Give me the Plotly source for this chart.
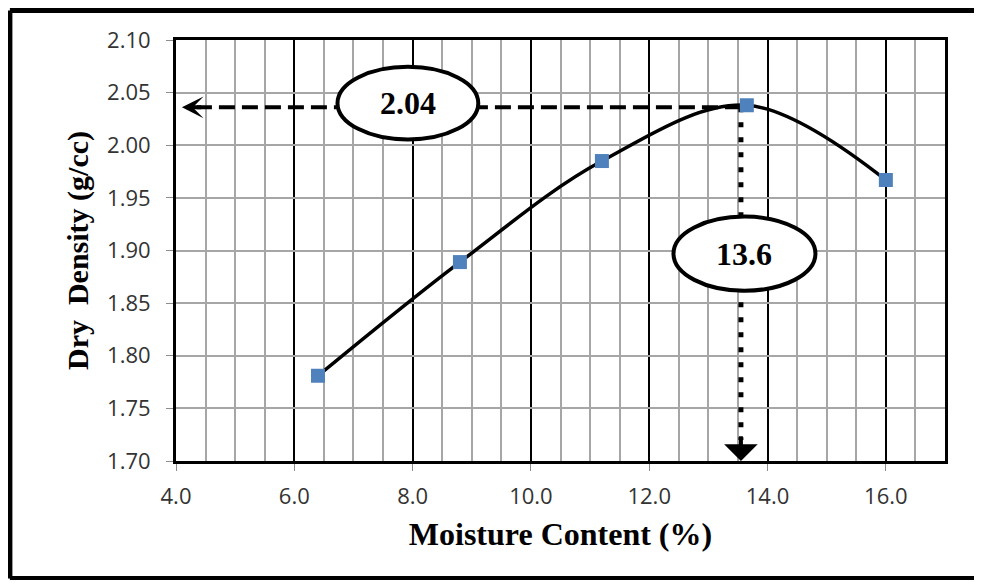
import plotly.graph_objects as go

# compaction test readings
moisture = [6.4, 8.8, 11.2, 13.65, 16.0]
dry_density = [1.781, 1.889, 1.985, 2.038, 1.967]

# optimum moisture content / maximum dry density
omc = 13.55
mdd = 2.036
omc_label = "13.6"
mdd_label = "2.04"

x_ticks = [4.0, 6.0, 8.0, 10.0, 12.0, 14.0, 16.0]

fig = go.Figure()

# guide lines from the peak to the axes
fig.add_trace(go.Scatter(x=[omc, 4.35], y=[mdd, mdd], mode="lines",
                         line=dict(color="black", width=4, dash="16px,7px"),
                         hoverinfo="skip"))
fig.add_trace(go.Scatter(x=[omc, omc], y=[mdd, 1.72], mode="lines",
                         line=dict(color="black", width=5, dash="5px,10px"),
                         hoverinfo="skip"))

# compaction curve
fig.add_trace(go.Scatter(x=moisture, y=dry_density, mode="lines+markers",
                         line=dict(color="black", width=3.5, shape="spline"),
                         marker=dict(symbol="square", size=14, color="#4f81bd")))

serif = "Liberation Serif"
tick_font = dict(family="Open Sans", size=22, color="#333333")

# the page body adds an 8px margin; keep the figure small enough to avoid scrollbars
fig.update_layout(
    width=974, height=572,
    margin=dict(l=168, r=37, t=32, b=119),
    paper_bgcolor="white", plot_bgcolor="white",
    showlegend=False,
    xaxis=dict(range=[4, 17], tick0=4, dtick=2, tickvals=x_ticks, tickformat=".1f",
               showgrid=True, gridcolor="black", gridwidth=1.5,
               minor=dict(dtick=0.5, showgrid=True, gridcolor="#a6a6a6", gridwidth=1.5),
               showline=True, linecolor="black", linewidth=3, mirror=True,
               ticks="outside", ticklen=7, tickcolor="#8c8c8c", zeroline=False,
               tickfont=tick_font, ticklabelstandoff=7,
               title=dict(text="<b>Moisture Content (%)</b>", standoff=14,
                          font=dict(family=serif, size=32, color="black"))),
    yaxis=dict(range=[1.70, 2.10], dtick=0.05, tickformat=".2f",
               showgrid=True, gridcolor="#a6a6a6", gridwidth=1.5,
               showline=True, linecolor="black", linewidth=3, mirror=True,
               ticks="outside", ticklen=7, tickcolor="#8c8c8c", zeroline=False,
               tickfont=tick_font, ticklabelstandoff=11,
               title=dict(text="<b>Dry  Density (g/cc)</b>", standoff=10,
                          font=dict(family=serif, size=30, color="black"))),
)

shapes = []
# outer chart border: left, top and bottom sides (right side is off the page)
border = dict(color="black", width=5)
bx0, bx1, by0, by1 = -0.216, 1.043, -0.279, 1.070
for x0, y0, x1, y1 in [(bx0, by0, bx0, by1), (bx0, by1, bx1, by1), (bx0, by0, bx1, by0)]:
    shapes.append(dict(type="line", xref="paper", yref="paper",
                       x0=x0, y0=y0, x1=x1, y1=y1, line=border, layer="above"))
# label ellipses
shapes.append(dict(type="circle", xref="x", yref="y",
                   x0=7.92 - 1.19, x1=7.92 + 1.19, y0=2.040 - 0.0345, y1=2.040 + 0.0345,
                   line=dict(color="black", width=4), fillcolor="white", layer="above"))
shapes.append(dict(type="circle", xref="x", yref="y",
                   x0=13.61 - 1.2, x1=13.61 + 1.2, y0=1.897 - 0.0352, y1=1.897 + 0.0352,
                   line=dict(color="black", width=4), fillcolor="white", layer="above"))
fig.update_layout(shapes=shapes)

label_font = dict(family=serif, size=32, color="black")
fig.add_annotation(x=7.92, y=2.040, text="<b>" + mdd_label + "</b>", showarrow=False,
                   font=label_font)
fig.add_annotation(x=13.61, y=1.897, text="<b>" + omc_label + "</b>", showarrow=False,
                   font=label_font)

# arrow heads
fig.add_annotation(x=4.1, y=mdd, ax=4.45, ay=mdd, axref="x", ayref="y", text="",
                   showarrow=True, arrowhead=3, arrowwidth=4, arrowsize=0.9,
                   arrowcolor="black", standoff=0)
fig.add_annotation(x=omc, y=1.70, ax=omc, ay=1.725, axref="x", ayref="y", text="",
                   showarrow=True, arrowhead=1, arrowwidth=4, arrowsize=1.4,
                   arrowcolor="black", standoff=0)

fig.write_html("out.html")
